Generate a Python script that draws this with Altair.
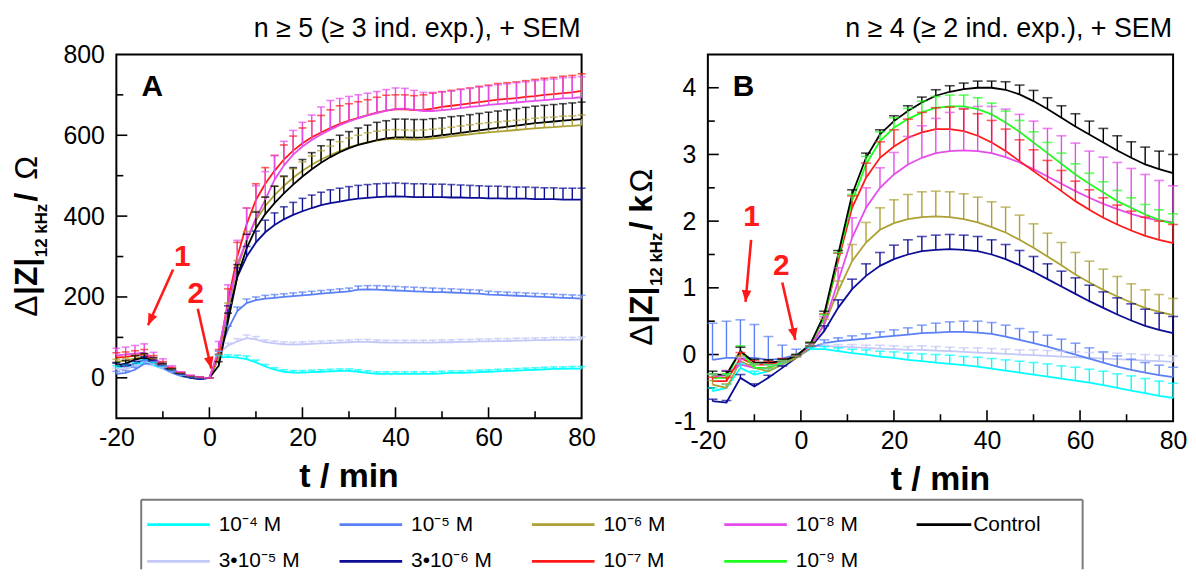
import math
import altair as alt
import pandas as pd

FONT = "Liberation Sans"

# ---------------- series definitions ----------------
SERIES = ["3•10⁻⁵ M", "10⁻⁴ M", "10⁻⁵ M", "3•10⁻⁶ M", "10⁻⁶ M",
          "10⁻⁷ M", "10⁻⁸ M", "10⁻⁹ M", "Control"]
COLORS = ["#C3C8F7", "#00FFFF", "#5B80F5", "#0C0C94", "#ADA135",
          "#FF1A1A", "#E54DEB", "#1EFF1E", "#000000"]

# ---------------- panel A (Ohm), t every 2 min ----------------
t_A = [-20, -18, -16, -14, -12, -10, -8, -6, -4, -2, 0,
       2, 4, 6, 8, 10, 12, 14, 16, 18, 20,
       22, 24, 26, 28, 30, 32, 34, 36, 38, 40,
       42, 44, 46, 48, 50, 52, 54, 56, 58, 60,
       62, 64, 66, 68, 70, 72, 74, 76, 78, 80]

A_cyan = [25, 28, 32, 38, 32, 24, 14, 5, 0, -2, 0,
          50, 52, 50, 46, 38, 28, 20, 15, 13, 13,
          14, 15, 16, 17, 17, 15, 12, 10, 10, 10,
          10, 10, 10, 10, 11, 12, 12, 13, 14, 15,
          16, 17, 18, 19, 20, 21, 22, 22, 23, 23]
A_cyan_sem = [5, 5, 5, 6, 6, 5, 4, 3, 2, 2, 0,
              5, 5, 6, 8, 6, 5, 5, 5, 5, 5,
              5, 5, 5, 5, 5, 5, 5, 5, 5, 5,
              5, 5, 5, 5, 5, 5, 5, 5, 5, 5,
              5, 5, 5, 5, 5, 5, 5, 5, 5, 5]
A_lav = [20, 22, 28, 35, 30, 22, 12, 4, 0, -2, 0,
         60, 80, 90, 98, 95, 88, 85, 83, 82, 83,
         84, 85, 86, 87, 88, 89, 89, 88, 87, 87,
         87, 87, 87, 87, 88, 88, 89, 89, 90, 90,
         91, 91, 92, 92, 93, 93, 94, 94, 94, 95]
A_lav_sem = [4, 4, 4, 5, 4, 4, 3, 3, 2, 2, 0,
             6, 6, 7, 8, 7, 6, 6, 6, 6, 6,
             6, 6, 6, 6, 6, 6, 6, 6, 6, 6,
             6, 6, 6, 6, 6, 6, 6, 6, 6, 6,
             6, 6, 6, 6, 6, 6, 6, 6, 6, 6]
A_blue = [10, 12, 20, 35, 35, 25, 12, 4, 0, -3, 0,
          60, 120, 165, 185, 192, 196, 198, 200, 202, 204,
          206, 208, 210, 212, 214, 218, 219, 218, 217, 216,
          215, 214, 213, 212, 212, 211, 210, 209, 208, 206,
          205, 204, 203, 202, 201, 200, 199, 198, 197, 196]
A_blue_sem = [6, 6, 6, 7, 6, 5, 4, 3, 2, 1, 0,
              6, 8, 10, 10, 8, 8, 8, 8, 8, 8,
              8, 8, 8, 8, 8, 9, 9, 10, 10, 10,
              10, 10, 10, 10, 9, 9, 9, 9, 9, 8,
              8, 8, 8, 8, 8, 8, 8, 8, 8, 8]
A_navy = [30, 28, 35, 45, 38, 28, 16, 6, 0, -3, 0,
          50, 160, 250, 300, 335, 360, 378, 392, 403, 412,
          420, 427, 432, 436, 440, 443, 445, 447, 448, 449,
          448, 447, 447, 447, 447, 446, 446, 445, 445, 444,
          444, 443, 443, 443, 442, 442, 442, 441, 441, 441]
A_navy_sem = [6, 6, 6, 7, 6, 5, 4, 3, 2, 1, 0,
              8, 18, 22, 25, 28, 30, 30, 31, 31, 32,
              32, 32, 33, 33, 33, 33, 33, 33, 33, 33,
              33, 33, 33, 32, 32, 32, 31, 31, 30, 30,
              30, 30, 29, 29, 29, 28, 28, 28, 28, 28]
A_olive = [40, 42, 48, 52, 42, 30, 18, 8, 2, 0, 0,
           50, 170, 270, 340, 390, 425, 452, 475, 495, 512,
           527, 540, 551, 561, 570, 577, 583, 587, 590, 591,
           590, 589, 590, 592, 594, 597, 600, 602, 605, 607,
           609, 611, 613, 615, 617, 619, 620, 622, 623, 625]
A_olive_sem = [6, 6, 7, 7, 6, 5, 4, 3, 2, 1, 0,
               8, 15, 20, 22, 22, 22, 22, 22, 22, 22,
               22, 22, 22, 23, 23, 23, 23, 23, 23, 23,
               23, 23, 23, 23, 23, 23, 23, 24, 24, 24,
               24, 24, 24, 24, 25, 25, 25, 25, 25, 25]
A_red = [50, 52, 55, 58, 45, 32, 20, 10, 3, 0, 0,
         60, 190, 300, 380, 440, 480, 512, 540, 562, 580,
         595, 607, 618, 628, 636, 643, 650, 656, 661, 664,
         664, 662, 663, 666, 670, 673, 676, 679, 682, 685,
         688, 690, 692, 695, 697, 700, 702, 704, 706, 710]
A_red_sem = [12, 12, 12, 12, 10, 8, 6, 4, 3, 2, 0,
             10, 30, 35, 40, 40, 40, 38, 36, 36, 38,
             40, 42, 45, 45, 42, 40, 38, 38, 38, 36,
             36, 36, 37, 38, 38, 38, 38, 38, 39, 39,
             40, 40, 40, 40, 41, 41, 41, 42, 42, 42]
A_mag = [55, 58, 60, 62, 48, 35, 22, 10, 3, 0, 0,
         70, 180, 280, 340, 395, 440, 490, 525, 552, 572,
         588, 602, 614, 625, 634, 642, 649, 655, 661, 665,
         666, 663, 660, 660, 662, 664, 667, 670, 672, 675,
         677, 679, 681, 683, 685, 687, 689, 691, 692, 694]
A_mag_sem = [18, 18, 20, 22, 15, 12, 8, 5, 3, 2, 0,
             20, 50, 60, 80, 80, 70, 60, 60, 60, 60,
             62, 68, 72, 66, 62, 58, 55, 53, 52, 52,
             50, 48, 46, 46, 45, 45, 46, 46, 47, 47,
             48, 48, 49, 49, 50, 50, 50, 51, 51, 51]
A_ctrl = [30, 35, 45, 50, 42, 30, 18, 8, 2, 0, 0,
          30, 140, 250, 320, 370, 405, 432, 456, 478, 498,
          516, 532, 546, 558, 568, 576, 582, 588, 592, 595,
          595, 594, 595, 597, 600, 603, 606, 609, 612, 615,
          618, 621, 624, 627, 630, 632, 634, 636, 638, 640]
A_ctrl_sem = [8, 8, 10, 10, 8, 6, 5, 4, 3, 2, 0,
              10, 20, 30, 35, 40, 42, 42, 43, 42, 42,
              41, 42, 43, 42, 41, 42, 43, 44, 44, 45,
              45, 45, 44, 44, 43, 43, 42, 42, 42, 42,
              42, 42, 42, 42, 42, 42, 42, 42, 42, 42]

# ---------------- panel B (kOhm), t every 3 min ----------------
t_B = [-19, -16, -13, -10, -7, -4, -1,
       2, 5, 8, 11, 14, 17, 20, 23, 26, 29, 32, 35, 38, 41,
       44, 47, 50, 53, 56, 59, 62, 65, 68, 71, 74, 77, 80]

B_cyan = [-0.55, -0.50, -0.20, -0.30, -0.25, -0.15, -0.04,
          0.08, 0.08, 0.05, 0.02, 0.00, -0.03, -0.05, -0.08, -0.10, -0.12, -0.14, -0.16, -0.18, -0.21,
          -0.24, -0.27, -0.30, -0.33, -0.36, -0.39, -0.42, -0.46, -0.50, -0.54, -0.58, -0.62, -0.65]
B_cyan_sem = [0.05, 0.05, 0.06, 0.05, 0.04, 0.03, 0.02,
              0.02, 0.04, 0.05, 0.06, 0.07, 0.08, 0.09, 0.10, 0.11, 0.12, 0.13, 0.13, 0.14, 0.15,
              0.16, 0.17, 0.18, 0.19, 0.19, 0.20, 0.20, 0.21, 0.21, 0.22, 0.22, 0.22, 0.22]
B_lav = [-0.35, -0.35, -0.10, -0.20, -0.20, -0.12, -0.03,
         0.12, 0.13, 0.12, 0.11, 0.10, 0.09, 0.08, 0.07, 0.07, 0.06, 0.05, 0.04, 0.03, 0.02,
         0.01, 0.00, -0.01, -0.02, -0.03, -0.04, -0.05, -0.06, -0.07, -0.08, -0.09, -0.10, -0.11]
B_lav_sem = [0.05, 0.05, 0.06, 0.05, 0.04, 0.03, 0.02,
             0.02, 0.03, 0.03, 0.04, 0.04, 0.05, 0.05, 0.05, 0.06, 0.06, 0.06, 0.06, 0.07, 0.07,
             0.07, 0.07, 0.08, 0.08, 0.08, 0.08, 0.08, 0.09, 0.09, 0.09, 0.09, 0.09, 0.09]
B_blue = [-0.08, -0.05, -0.05, -0.05, -0.08, -0.06, 0.00,
          0.10, 0.17, 0.20, 0.22, 0.24, 0.26, 0.28, 0.30, 0.32, 0.33, 0.34, 0.34, 0.33, 0.31,
          0.27, 0.22, 0.17, 0.12, 0.06, 0.00, -0.06, -0.12, -0.18, -0.23, -0.27, -0.31, -0.34]
B_blue_sem = [0.55, 0.55, 0.57, 0.50, 0.35, 0.20, 0.08,
              0.03, 0.05, 0.05, 0.06, 0.07, 0.08, 0.09, 0.10, 0.12, 0.14, 0.15, 0.16, 0.17, 0.17,
              0.17, 0.17, 0.17, 0.17, 0.17, 0.17, 0.16, 0.16, 0.16, 0.16, 0.15, 0.15, 0.15]
B_navy = [-0.70, -0.72, -0.35, -0.48, -0.35, -0.20, -0.05,
          0.10, 0.35, 0.70, 0.98, 1.18, 1.33, 1.43, 1.50, 1.55, 1.57, 1.58, 1.57, 1.55, 1.50,
          1.43, 1.34, 1.24, 1.13, 1.02, 0.91, 0.80, 0.70, 0.60, 0.51, 0.43, 0.37, 0.32]
B_navy_sem = [0.03, 0.03, 0.05, 0.04, 0.04, 0.03, 0.02,
              0.03, 0.08, 0.12, 0.15, 0.18, 0.20, 0.21, 0.22, 0.22, 0.22, 0.22, 0.22, 0.22, 0.22,
              0.22, 0.22, 0.23, 0.23, 0.23, 0.24, 0.24, 0.24, 0.25, 0.25, 0.25, 0.25, 0.25]
B_olive = [-0.45, -0.50, -0.10, -0.20, -0.25, -0.15, -0.05,
           0.10, 0.45, 0.95, 1.40, 1.68, 1.87, 1.97, 2.03, 2.06, 2.07, 2.06, 2.03, 1.98, 1.91,
           1.83, 1.72, 1.60, 1.47, 1.34, 1.20, 1.08, 0.97, 0.87, 0.78, 0.70, 0.64, 0.59]
B_olive_sem = [0.06, 0.06, 0.08, 0.06, 0.05, 0.04, 0.02,
               0.03, 0.08, 0.15, 0.25, 0.30, 0.33, 0.35, 0.37, 0.38, 0.38, 0.38, 0.38, 0.38, 0.38,
               0.38, 0.37, 0.36, 0.35, 0.34, 0.33, 0.32, 0.31, 0.30, 0.28, 0.27, 0.26, 0.25]
B_red = [-0.40, -0.40, -0.05, -0.15, -0.15, -0.10, -0.02,
         0.15, 0.55, 1.40, 2.20, 2.65, 2.95, 3.12, 3.25, 3.33, 3.38, 3.38, 3.35, 3.28, 3.18,
         3.05, 2.90, 2.75, 2.60, 2.45, 2.30, 2.17, 2.05, 1.95, 1.86, 1.78, 1.72, 1.67]
B_red_sem = [0.06, 0.06, 0.08, 0.06, 0.05, 0.04, 0.02,
             0.03, 0.06, 0.12, 0.18, 0.22, 0.24, 0.25, 0.28, 0.30, 0.32, 0.33, 0.33, 0.33, 0.33,
             0.33, 0.32, 0.32, 0.31, 0.31, 0.30, 0.30, 0.30, 0.29, 0.29, 0.28, 0.28, 0.28]
B_mag = [-0.35, -0.30, -0.15, -0.20, -0.20, -0.12, -0.03,
         0.12, 0.45, 1.10, 1.75, 2.20, 2.50, 2.70, 2.85, 2.95, 3.02, 3.05, 3.06, 3.05, 3.02,
         2.96, 2.88, 2.78, 2.67, 2.56, 2.45, 2.35, 2.26, 2.18, 2.11, 2.05, 2.01, 1.98]
B_mag_sem = [0.06, 0.06, 0.08, 0.06, 0.05, 0.04, 0.02,
             0.05, 0.12, 0.20, 0.30, 0.30, 0.30, 0.33, 0.42, 0.48, 0.52, 0.58, 0.63, 0.67, 0.70,
             0.72, 0.72, 0.72, 0.72, 0.72, 0.72, 0.70, 0.70, 0.70, 0.68, 0.65, 0.60, 0.55]
B_green = [-0.35, -0.35, 0.05, -0.20, -0.20, -0.12, -0.02,
           0.15, 0.55, 1.45, 2.30, 2.85, 3.20, 3.40, 3.53, 3.63, 3.70, 3.72, 3.72, 3.68, 3.60,
           3.48, 3.34, 3.18, 3.02, 2.86, 2.70, 2.56, 2.43, 2.30, 2.20, 2.10, 2.02, 1.96]
B_green_sem = [0.06, 0.06, 0.08, 0.06, 0.05, 0.04, 0.02,
               0.03, 0.05, 0.08, 0.10, 0.12, 0.14, 0.15, 0.16, 0.17, 0.17, 0.17, 0.17, 0.17, 0.17,
               0.17, 0.17, 0.16, 0.16, 0.16, 0.16, 0.16, 0.16, 0.16, 0.15, 0.15, 0.15, 0.15]
B_ctrl = [-0.30, -0.30, 0.05, -0.12, -0.12, -0.10, -0.02,
          0.15, 0.60, 1.50, 2.40, 2.95, 3.30, 3.50, 3.65, 3.78, 3.88, 3.94, 3.98, 4.00, 4.00,
          3.97, 3.90, 3.80, 3.68, 3.55, 3.42, 3.30, 3.18, 3.06, 2.95, 2.85, 2.78, 2.72]
B_ctrl_sem = [0.05, 0.05, 0.06, 0.05, 0.04, 0.03, 0.02,
              0.03, 0.05, 0.06, 0.07, 0.07, 0.07, 0.08, 0.08, 0.08, 0.09, 0.09, 0.09, 0.10, 0.10,
              0.12, 0.14, 0.16, 0.17, 0.18, 0.19, 0.20, 0.21, 0.22, 0.24, 0.26, 0.27, 0.28]

# axis labels / ticks
X_LABELS = [-20, 0, 20, 40, 60, 80]
X_MAJOR = [0, 20, 40, 60]
X_MINOR = [-10, 10, 30, 50, 70]
A_Y_LABELS = [0, 200, 400, 600, 800]
A_Y_MAJOR = [0, 200, 400, 600]
A_Y_MINOR = [100, 300, 500, 700]
B_Y_LABELS = [-1, 0, 1, 2, 3, 4]
B_Y_MAJOR = [0, 1, 2, 3, 4]
B_Y_MINOR = [-0.5, 0.5, 1.5, 2.5, 3.5]

# annotations (data coordinates): label, t, value ; arrows t1, v1 -> t2, v2
A_NUM = ["1", "2"]
A_NUM_T = [-5.8, -2.9]
A_NUM_V = [299, 208]
A_ARR_T1 = [-7.8, -2.5]
A_ARR_V1 = [268, 171]
A_ARR_T2 = [-13.2, 0.4]
A_ARR_V2 = [130, 23]
B_NUM = ["1", "2"]
B_NUM_T = [-10.6, -4.2]
B_NUM_V = [2.06, 1.33]
B_ARR_T1 = [-10.7, -4.0]
B_ARR_V1 = [1.72, 1.08]
B_ARR_T2 = [-11.9, -1.2]
B_ARR_V2 = [0.79, 0.22]

# legend
LEG_LABELS = ["10⁻⁴ M", "10⁻⁵ M", "10⁻⁶ M", "10⁻⁸ M", "Control",
              "3•10⁻⁵ M", "3•10⁻⁶ M", "10⁻⁷ M", "10⁻⁹ M"]
LEG_COL = [0, 1, 2, 3, 4, 0, 1, 2, 3]
LEG_ROW = [0, 0, 0, 0, 0, 1, 1, 1, 1]


def long_df(t, names, means, sems):
    rows = []
    for nm, m, s in zip(names, means, sems):
        for ti, mi, si in zip(t, m, s):
            rows.append({"t": ti, "mean": mi, "top": mi + si, "series": nm})
    return pd.DataFrame(rows)


df_A = long_df(t_A,
               ["3•10⁻⁵ M", "10⁻⁴ M", "10⁻⁵ M", "3•10⁻⁶ M", "10⁻⁶ M", "Control", "10⁻⁷ M", "10⁻⁸ M"],
               [A_lav, A_cyan, A_blue, A_navy, A_olive, A_ctrl, A_red, A_mag],
               [A_lav_sem, A_cyan_sem, A_blue_sem, A_navy_sem, A_olive_sem, A_ctrl_sem, A_red_sem, A_mag_sem])
df_B = long_df(t_B,
               ["3•10⁻⁵ M", "10⁻⁴ M", "10⁻⁵ M", "3•10⁻⁶ M", "10⁻⁶ M", "10⁻⁸ M", "10⁻⁷ M", "10⁻⁹ M", "Control"],
               [B_lav, B_cyan, B_blue, B_navy, B_olive, B_mag, B_red, B_green, B_ctrl],
               [B_lav_sem, B_cyan_sem, B_blue_sem, B_navy_sem, B_olive_sem, B_mag_sem, B_red_sem, B_green_sem, B_ctrl_sem])

ONE = pd.DataFrame({"k": [0]})
COLOR_SCALE = alt.Scale(domain=SERIES, range=COLORS)


def text_layer(txt, x, y, size, bold=False, color="black", align="left", baseline="middle", angle=0):
    kw = dict(text=txt, font=FONT, fontSize=size, color=color, align=align, baseline=baseline)
    if bold:
        kw["fontWeight"] = "bold"
    if angle:
        kw["angle"] = angle
    return alt.Chart(ONE).mark_text(**kw).encode(x=alt.value(x), y=alt.value(y))


def panel(df, ydom, ylabels, ymajor, yminor, W, H, cap_w, header, letter,
          title_pieces, title_start, title_base, num, num_t, num_v, at1, av1, at2, av2, anchor=False):
    xsc = alt.Scale(domain=[-20, 80], nice=False, zero=False)
    ysc = alt.Scale(domain=ydom, nice=False, zero=False)
    xax = alt.Axis(values=X_LABELS, ticks=False, domain=False, grid=False, labelFont=FONT,
                   labelFontSize=25, labelColor="black", labelPadding=7, labelFlush=False,
                   labelExpr="'' + datum.value", title=None)
    yax = alt.Axis(values=ylabels, ticks=False, domain=False, grid=False, labelFont=FONT,
                   labelFontSize=25, labelColor="black", labelPadding=12, labelFlush=False,
                   labelExpr="'' + datum.value", title=None)
    color = alt.Color("series:N", scale=COLOR_SCALE, legend=None)
    base = alt.Chart(df)
    lines = base.mark_line(strokeWidth=1.8).encode(
        x=alt.X("t:Q", scale=xsc, axis=xax), y=alt.Y("mean:Q", scale=ysc, axis=yax), color=color)
    bars = base.mark_rule(strokeWidth=1.4).encode(x="t:Q", y="mean:Q", y2="top:Q", color=color)
    caps = base.mark_tick(orient="horizontal", size=cap_w, thickness=1.6).encode(
        x="t:Q", y="top:Q", color=color)

    xmaj = alt.Chart(pd.DataFrame({"t": X_MAJOR})).mark_rule(color="black", strokeWidth=1.6).encode(
        x="t:Q", y=alt.value(H), y2=alt.value(H - 11))
    xmin = alt.Chart(pd.DataFrame({"t": X_MINOR})).mark_rule(color="black", strokeWidth=1.6).encode(
        x="t:Q", y=alt.value(H), y2=alt.value(H - 7))
    ymaj = alt.Chart(pd.DataFrame({"mean": ymajor})).mark_rule(color="black", strokeWidth=1.6).encode(
        y="mean:Q", x=alt.value(0), x2=alt.value(11))
    ymin = alt.Chart(pd.DataFrame({"mean": yminor})).mark_rule(color="black", strokeWidth=1.6).encode(
        y="mean:Q", x=alt.value(0), x2=alt.value(7))
    frame = alt.Chart(ONE).mark_rect(fill="transparent", stroke="black", strokeWidth=2).encode(
        x=alt.value(0), x2=alt.value(W), y=alt.value(0), y2=alt.value(H))

    ann = pd.DataFrame({"lab": num, "t": num_t, "v": num_v})
    nums = alt.Chart(ann).mark_text(font=FONT, fontSize=30, fontWeight="bold", color="#FF1A1A",
                                    align="center", baseline="middle").encode(
        x="t:Q", y="v:Q", text="lab:N")
    ppt = W / 100.0
    ppv = H / (ydom[1] - ydom[0])
    angs = []
    for a, b, c, d in zip(at1, av1, at2, av2):
        dx = (c - a) * ppt
        dy = -(d - b) * ppv
        angs.append((math.degrees(math.atan2(dx, -dy)) + 360) % 360)
    arr = pd.DataFrame({"t": at1, "v": av1, "t2": at2, "v2": av2, "ang": angs})
    shafts = alt.Chart(arr).mark_rule(color="#FF1A1A", strokeWidth=2.6).encode(
        x="t:Q", y="v:Q", x2="t2:Q", y2="v2:Q")
    heads = alt.Chart(arr).mark_point(shape="M0,0L-0.75,1.8L0.75,1.8Z", filled=True, color="#FF1A1A",
                                      opacity=1, size=170).encode(
        x="t2:Q", y="v2:Q", angle=alt.Angle("ang:Q", scale=None))

    texts = [
        text_layer(header, W - 1, -26, 27, align="right"),
        text_layer(letter, 36, 33, 30, bold=True, align="center"),
        text_layer("t / min", W / 2, H + 59, 34, bold=True, align="center"),
    ]
    y0 = title_start
    for txt, size, dxb, width, bold in title_pieces:
        texts.append(text_layer(txt, title_base + dxb, y0, size, bold=bold, align="left",
                                baseline="alphabetic", angle=270))
        y0 -= width
    layers = [frame, xmaj, xmin, ymaj, ymin, lines, bars, caps, shafts, heads, nums] + texts
    if anchor:
        layers.append(alt.Chart(ONE).mark_rule(strokeOpacity=0, strokeWidth=1).encode(
            x=alt.value(-108.5), x2=alt.value(-100), y=alt.value(-44.5)))
    return alt.layer(*layers)


WA, HA = 468, 366
WB, HB = 468, 369

main_A = panel(df_A, [-100, 800], A_Y_LABELS, A_Y_MAJOR, A_Y_MINOR, WA, HA, 8,
               "n ≥ 5 (≥ 3 ind. exp.), + SEM", "A",
               [("Δ", 32, 0, 22, False), ("|Z|", 32, 0, 38, True), ("12 kHz", 17, 10, 56, True),
                (" / ", 32, 0, 22, True), ("Ω", 32, 0, 25, False)], 264, -80,
               A_NUM, A_NUM_T, A_NUM_V, A_ARR_T1, A_ARR_V1, A_ARR_T2, A_ARR_V2, anchor=True)
main_B = panel(df_B, [-1, 4.5], B_Y_LABELS, B_Y_MAJOR, B_Y_MINOR, WB, HB, 10,
               "n ≥ 4 (≥ 2 ind. exp.), + SEM", "B",
               [("Δ", 32, 0, 22, False), ("|Z|", 32, 0, 38, True), ("12 kHz", 17, 10, 56, True),
                (" / k", 32, 0, 38, True), ("Ω", 32, 0, 25, False)], 293, -56,
               B_NUM, B_NUM_T, B_NUM_V, B_ARR_T1, B_ARR_V1, B_ARR_T2, B_ARR_V2)

# ---------------- legend (drawn below panel A with its own scales) ----------------
LEG_TOP = 448.0      # legend box top, px below top of panel A
LEG_H = 70.0
COL_DX = 193.5
COL_X0 = 31.0
ROW_Y0 = 25.0
ROW_DY = 37.0
leg_df = pd.DataFrame({"label": LEG_LABELS, "col": LEG_COL, "row": LEG_ROW})
leg_df["series"] = leg_df["label"]
lxs = alt.Scale(domain=[-COL_X0 / COL_DX, (WA - COL_X0) / COL_DX], nice=False, zero=False)
ya = -(LEG_TOP + ROW_Y0) / ROW_DY
lys = alt.Scale(domain=[ya, ya + HA / ROW_DY], nice=False, zero=False, reverse=True)
leg_base = alt.Chart(leg_df).transform_calculate(
    c2="datum.col + (datum.col == 4 ? 55 : 63) / 193.5",
    ctext="datum.col + (datum.col == 4 ? 57 : 72) / 193.5")
leg_lines = leg_base.mark_rule(strokeWidth=2.6).encode(
    x=alt.X("col:Q", scale=lxs, axis=None), x2="c2:Q",
    y=alt.Y("row:Q", scale=lys, axis=None),
    color=alt.Color("series:N", scale=COLOR_SCALE, legend=None))
leg_text = leg_base.mark_text(font=FONT, fontSize=21, align="left", baseline="middle",
                              color="black").encode(
    x=alt.X("ctext:Q", scale=lxs, axis=None), y=alt.Y("row:Q", scale=lys, axis=None), text="label:N")
BOX_L, BOX_R = 25, 972
box = [
    alt.Chart(ONE).mark_rule(color="#7a7a7a", strokeWidth=2).encode(
        x=alt.value(BOX_L), x2=alt.value(BOX_R), y=alt.value(LEG_TOP)),
    alt.Chart(ONE).mark_rule(color="#7a7a7a", strokeWidth=2).encode(
        x=alt.value(BOX_L), y=alt.value(LEG_TOP), y2=alt.value(LEG_TOP + LEG_H)),
    alt.Chart(ONE).mark_rule(color="#7a7a7a", strokeWidth=2).encode(
        x=alt.value(BOX_R), y=alt.value(LEG_TOP), y2=alt.value(LEG_TOP + LEG_H)),
]
legend = alt.layer(*box, leg_lines, leg_text)

panel_A = alt.layer(main_A, legend).resolve_scale(x="independent", y="independent").properties(
    width=WA, height=HA)
panel_B = main_B.properties(width=WB, height=HB)

chart = alt.hconcat(panel_A, panel_B, spacing=127, bounds="flush").properties(
    padding={"left": 0, "top": 0, "right": 0, "bottom": 0}
).configure_view(stroke="transparent")

chart.save("out.html", embed_options={"renderer": "svg", "actions": False})
